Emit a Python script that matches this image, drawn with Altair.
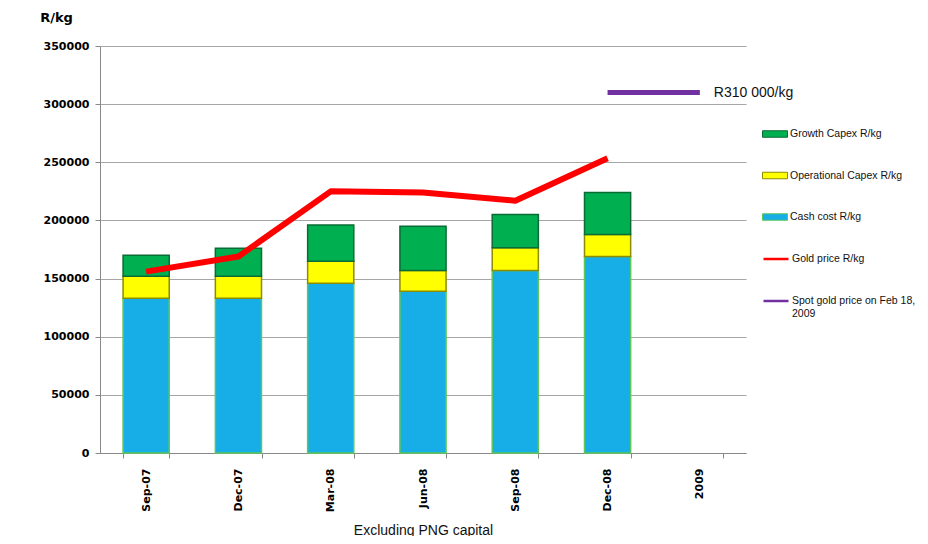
import altair as alt
import pandas as pd

months = ["Sep-07", "Dec-07", "Mar-08", "Jun-08", "Sep-08", "Dec-08", "2009"]
bar_months = ["Sep-07", "Dec-07", "Mar-08", "Jun-08", "Sep-08", "Dec-08"]
cash_cost = [133000, 133000, 146000, 139000, 157000, 169000]
operational_capex = [19000, 19000, 19000, 18000, 19500, 19000]
growth_capex = [18000, 24000, 31000, 38000, 28500, 36000]
gold_price = [156000, 169000, 225000, 224000, 217000, 253500]
spot_months = ["Dec-08", "2009"]
spot_price = [310000, 310000]

comp_names = ["Growth Capex R/kg", "Operational Capex R/kg", "Cash cost R/kg"]
comp_fill = ["#00B050", "#FFFF00", "#17AEE8"]
comp_stroke = ["#0A6B35", "#8C8C00", "#5BC85B"]
line_names = ["Gold price R/kg", "Spot gold price on Feb 18, 2009"]
line_colors = ["#FF0000", "#7030A0"]

rows = []
for i, m in enumerate(bar_months):
    rows.append({"month": m, "component": "Cash cost R/kg", "ord": 0, "value": cash_cost[i]})
    rows.append({"month": m, "component": "Operational Capex R/kg", "ord": 1, "value": operational_capex[i]})
    rows.append({"month": m, "component": "Growth Capex R/kg", "ord": 2, "value": growth_capex[i]})
bars_df = pd.DataFrame(rows)

lrows = []
for i, m in enumerate(bar_months):
    lrows.append({"month": m, "series": line_names[0], "price": gold_price[i]})
for i, m in enumerate(spot_months):
    lrows.append({"month": m, "series": line_names[1], "price": spot_price[i]})
lines_df = pd.DataFrame(lrows)

label_df = pd.DataFrame({"month": [spot_months[-1]], "price": [spot_price[-1]], "txt": ["R310 000/kg"]})

x_enc = alt.X(
    "month:N",
    sort=months,
    scale=alt.Scale(domain=months, paddingInner=0.5, paddingOuter=0.25),
    axis=alt.Axis(
        title="Excluding PNG capital",
        titleFont="Liberation Sans",
        titleFontSize=14,
        titleFontWeight="normal",
        titleColor="#111",
        titleY=77,
        titleBaseline="middle",
        labelAngle=-90,
        labelFont="DejaVu Sans",
        labelFontWeight="bold",
        labelFontSize=11,
        labelColor="#000",
        labelPadding=10,
        tickBand="extent",
        tickColor="#888",
        tickSize=5,
        domainColor="#888",
        grid=False,
    ),
)

y_axis = alt.Axis(
    title="R/kg",
    titleAngle=0,
    titleX=-44,
    titleY=-29,
    titleAlign="center",
    titleBaseline="middle",
    titleFont="DejaVu Sans",
    titleFontSize=13,
    titleFontWeight="bold",
    titleColor="#000",
    values=[0, 50000, 100000, 150000, 200000, 250000, 300000, 350000],
    format="d",
    labelFont="DejaVu Sans",
    labelFontWeight="bold",
    labelFontSize=11,
    labelColor="#000",
    labelPadding=6,
    tickColor="#888",
    tickSize=5,
    domainColor="#888",
    gridColor="#A6A6A6",
    gridWidth=1,
)
y_scale = alt.Scale(domain=[0, 350000])

bars = alt.Chart(bars_df).mark_bar(strokeWidth=1.5).encode(
    x=x_enc,
    y=alt.Y("value:Q", stack="zero", scale=y_scale, axis=y_axis),
    color=alt.Color(
        "component:N",
        scale=alt.Scale(domain=comp_names, range=comp_fill),
        legend=alt.Legend(
            title=None,
            orient="none",
            legendX=662,
            legendY=75,
            symbolType="M-1,-0.26H1V0.26H-1Z",
            symbolSize=625,
            symbolStrokeColor="#0A6B35",
            symbolStrokeWidth=1,
            labelFont="Liberation Sans",
            labelFontSize=10.5,
            labelColor="#111",
            labelOffset=2,
            rowPadding=22.5,
            labelLimit=200,
        ),
    ),
    stroke=alt.Stroke("component:N", scale=alt.Scale(domain=comp_names, range=comp_stroke), legend=None),
    order=alt.Order("ord:Q"),
)

lines = alt.Chart(lines_df).mark_line(strokeCap="butt", strokeJoin="round").encode(
    x=alt.X("month:N", sort=months),
    y=alt.Y("price:Q", scale=y_scale),
    color=alt.Color(
        "series:N",
        scale=alt.Scale(domain=line_names, range=line_colors),
        legend=alt.Legend(
            title=None,
            orient="none",
            legendX=662,
            legendY=199,
            symbolType="stroke",
            symbolSize=625,
            symbolStrokeWidth=2.5,
            labelFont="Liberation Sans",
            labelFontSize=10.5,
            labelColor="#111",
            labelOffset=2,
            rowPadding=22,
            labelLimit=200,
            labelExpr="datum.label == 'Spot gold price on Feb 18, 2009' ? ['Spot gold price on Feb 18,', '2009'] : datum.label",
        ),
    ),
    strokeWidth=alt.StrokeWidth("series:N", scale=alt.Scale(domain=line_names, range=[6, 5]), legend=None),
    detail="series:N",
)

label = alt.Chart(label_df).mark_text(
    align="left", baseline="middle", dx=14, font="Liberation Sans", fontSize=14, color="#111"
).encode(
    x=alt.X("month:N", sort=months),
    y=alt.Y("price:Q", scale=y_scale),
    text="txt:N",
)

chart = (
    alt.layer(bars, lines, label)
    .resolve_scale(color="independent", stroke="independent")
    .resolve_legend(color="independent", stroke="independent")
    .properties(
        width=646,
        height=407,
        autosize=alt.AutoSizeParams(type="none"),
        padding={"left": 92, "top": 38, "right": 174, "bottom": 83},
        background="white",
    )
    .configure_view(strokeWidth=0)
)

chart.save("out.html", embed_options={"renderer": "svg", "actions": False})
